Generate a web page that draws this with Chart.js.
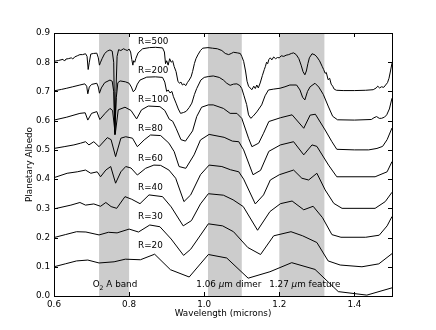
<!DOCTYPE html>
<html>
<head>
<meta charset="utf-8">
<script src="https://cdn.jsdelivr.net/npm/chart.js@4.4.0/dist/chart.umd.min.js"></script>
<style>
  html, body { margin: 0; padding: 0; background: #fff; }
  #wrap { width: 436px; height: 330px; }
</style>
</head>
<body>
<div id="wrap"><canvas id="chart" width="436" height="330"></canvas></div>
<script>
// [wavelength (microns), planetary albedo], one list per resolution
var r500 = [[0.600,0.803],[0.612,0.806],[0.624,0.810],[0.628,0.804],[0.632,0.811],[0.638,0.812],[0.646,0.815],[0.650,0.811],[0.655,0.818],[0.662,0.822],[0.669,0.826],[0.676,0.826],[0.684,0.829],[0.688,0.820],[0.691,0.775],[0.694,0.800],[0.698,0.828],[0.705,0.830],[0.714,0.831],[0.718,0.815],[0.721,0.790],[0.724,0.800],[0.728,0.812],[0.735,0.830],[0.742,0.838],[0.749,0.842],[0.755,0.838],[0.759,0.800],[0.762,0.552],[0.765,0.700],[0.768,0.820],[0.772,0.843],[0.778,0.840],[0.785,0.846],[0.790,0.843],[0.795,0.840],[0.800,0.845],[0.804,0.835],[0.807,0.810],[0.810,0.790],[0.812,0.805],[0.815,0.800],[0.818,0.813],[0.824,0.832],[0.836,0.846],[0.854,0.850],[0.870,0.851],[0.889,0.849],[0.894,0.835],[0.897,0.795],[0.900,0.805],[0.904,0.790],[0.908,0.812],[0.912,0.800],[0.916,0.805],[0.920,0.785],[0.925,0.768],[0.930,0.735],[0.934,0.728],[0.938,0.732],[0.942,0.722],[0.946,0.726],[0.951,0.720],[0.955,0.730],[0.960,0.739],[0.965,0.750],[0.969,0.768],[0.974,0.796],[0.978,0.812],[0.983,0.825],[0.990,0.840],[0.996,0.848],[1.010,0.850],[1.022,0.848],[1.035,0.846],[1.047,0.840],[1.056,0.830],[1.065,0.826],[1.072,0.830],[1.078,0.834],[1.088,0.832],[1.096,0.830],[1.100,0.820],[1.105,0.803],[1.110,0.770],[1.114,0.735],[1.118,0.718],[1.122,0.712],[1.127,0.706],[1.132,0.718],[1.136,0.710],[1.140,0.722],[1.144,0.712],[1.149,0.729],[1.155,0.755],[1.160,0.775],[1.163,0.786],[1.166,0.800],[1.169,0.795],[1.172,0.809],[1.176,0.815],[1.180,0.808],[1.185,0.818],[1.190,0.812],[1.195,0.816],[1.200,0.815],[1.205,0.822],[1.212,0.820],[1.218,0.824],[1.225,0.826],[1.232,0.830],[1.238,0.832],[1.245,0.826],[1.252,0.812],[1.258,0.790],[1.263,0.768],[1.268,0.757],[1.272,0.770],[1.276,0.795],[1.280,0.815],[1.287,0.829],[1.295,0.825],[1.300,0.818],[1.307,0.805],[1.314,0.786],[1.318,0.775],[1.322,0.762],[1.325,0.765],[1.330,0.740],[1.334,0.745],[1.338,0.725],[1.342,0.718],[1.346,0.708],[1.352,0.704],[1.370,0.703],[1.400,0.703],[1.430,0.704],[1.450,0.706],[1.458,0.712],[1.462,0.718],[1.467,0.712],[1.472,0.716],[1.478,0.714],[1.483,0.722],[1.488,0.730],[1.492,0.745],[1.496,0.770],[1.500,0.797]];
var r200 = [[0.600,0.702],[0.620,0.707],[0.634,0.711],[0.650,0.716],[0.669,0.722],[0.682,0.726],[0.687,0.718],[0.690,0.692],[0.694,0.715],[0.700,0.724],[0.714,0.728],[0.718,0.715],[0.721,0.694],[0.726,0.712],[0.735,0.730],[0.749,0.739],[0.755,0.735],[0.759,0.700],[0.762,0.560],[0.766,0.680],[0.770,0.730],[0.776,0.736],[0.790,0.733],[0.800,0.728],[0.806,0.715],[0.811,0.699],[0.816,0.705],[0.822,0.725],[0.829,0.739],[0.847,0.749],[0.870,0.750],[0.889,0.748],[0.895,0.732],[0.900,0.700],[0.904,0.705],[0.909,0.695],[0.914,0.700],[0.918,0.682],[0.925,0.660],[0.931,0.640],[0.937,0.625],[0.945,0.628],[0.952,0.632],[0.960,0.645],[0.967,0.660],[0.974,0.690],[0.980,0.710],[0.991,0.739],[1.000,0.748],[1.011,0.751],[1.024,0.753],[1.040,0.748],[1.051,0.739],[1.060,0.728],[1.069,0.721],[1.078,0.725],[1.087,0.726],[1.095,0.720],[1.100,0.710],[1.106,0.685],[1.113,0.655],[1.118,0.620],[1.124,0.608],[1.130,0.615],[1.140,0.630],[1.153,0.654],[1.162,0.685],[1.171,0.705],[1.185,0.708],[1.202,0.711],[1.215,0.716],[1.228,0.722],[1.246,0.722],[1.255,0.705],[1.262,0.680],[1.268,0.671],[1.275,0.700],[1.282,0.716],[1.295,0.728],[1.305,0.715],[1.317,0.690],[1.330,0.650],[1.342,0.615],[1.355,0.603],[1.400,0.602],[1.445,0.604],[1.452,0.610],[1.459,0.614],[1.466,0.608],[1.472,0.608],[1.480,0.612],[1.486,0.620],[1.493,0.640],[1.500,0.677]];
var r100 = [[0.600,0.602],[0.634,0.612],[0.669,0.625],[0.683,0.627],[0.690,0.602],[0.700,0.625],[0.714,0.631],[0.722,0.604],[0.736,0.625],[0.749,0.642],[0.756,0.635],[0.763,0.553],[0.771,0.637],[0.789,0.646],[0.805,0.635],[0.820,0.606],[0.833,0.637],[0.851,0.650],[0.882,0.648],[0.895,0.635],[0.907,0.605],[0.916,0.598],[0.925,0.574],[0.938,0.535],[0.950,0.530],[0.969,0.565],[0.980,0.614],[0.993,0.646],[1.011,0.654],[1.024,0.654],[1.051,0.642],[1.069,0.625],[1.087,0.625],[1.100,0.608],[1.118,0.540],[1.127,0.511],[1.145,0.523],[1.158,0.557],[1.172,0.597],[1.203,0.610],[1.234,0.620],[1.265,0.574],[1.282,0.619],[1.296,0.622],[1.322,0.568],[1.340,0.528],[1.353,0.502],[1.400,0.500],[1.438,0.500],[1.460,0.505],[1.475,0.512],[1.487,0.535],[1.500,0.575]];
var r80 = [[0.600,0.505],[0.627,0.511],[0.653,0.517],[0.671,0.523],[0.684,0.528],[0.693,0.517],[0.706,0.528],[0.720,0.511],[0.742,0.542],[0.752,0.535],[0.764,0.477],[0.778,0.540],[0.791,0.545],[0.809,0.540],[0.822,0.511],[0.840,0.534],[0.857,0.551],[0.884,0.549],[0.906,0.523],[0.920,0.494],[0.933,0.443],[0.951,0.437],[0.973,0.483],[0.990,0.534],[1.013,0.553],[1.053,0.543],[1.075,0.530],[1.092,0.528],[1.105,0.500],[1.130,0.415],[1.150,0.430],[1.172,0.495],[1.203,0.517],[1.238,0.528],[1.265,0.483],[1.287,0.517],[1.300,0.512],[1.331,0.448],[1.353,0.408],[1.455,0.408],[1.487,0.425],[1.500,0.460]];
var r60 = [[0.600,0.405],[0.635,0.420],[0.662,0.425],[0.684,0.431],[0.698,0.420],[0.715,0.425],[0.724,0.408],[0.738,0.431],[0.751,0.443],[0.764,0.386],[0.778,0.425],[0.791,0.443],[0.805,0.438],[0.822,0.414],[0.844,0.437],[0.866,0.448],[0.884,0.447],[0.906,0.431],[0.924,0.403],[0.946,0.323],[0.964,0.346],[0.990,0.415],[1.013,0.448],[1.047,0.443],[1.070,0.432],[1.092,0.425],[1.105,0.400],[1.136,0.315],[1.158,0.346],[1.176,0.397],[1.200,0.415],[1.238,0.431],[1.260,0.403],[1.278,0.397],[1.300,0.420],[1.322,0.363],[1.345,0.317],[1.367,0.300],[1.455,0.300],[1.482,0.323],[1.500,0.355]];
var r40 = [[0.600,0.298],[0.645,0.311],[0.669,0.320],[0.684,0.311],[0.706,0.315],[0.724,0.307],[0.738,0.320],[0.752,0.306],[0.767,0.300],[0.789,0.340],[0.807,0.331],[0.829,0.316],[0.853,0.346],[0.889,0.340],[0.912,0.305],[0.944,0.240],[0.966,0.258],[0.990,0.315],[1.011,0.350],[1.051,0.345],[1.077,0.329],[1.104,0.306],[1.142,0.225],[1.175,0.289],[1.203,0.316],[1.234,0.325],[1.265,0.295],[1.290,0.307],[1.315,0.268],[1.340,0.210],[1.364,0.201],[1.430,0.201],[1.466,0.208],[1.487,0.240],[1.500,0.272]];
var r30 = [[0.600,0.200],[0.630,0.210],[0.660,0.220],[0.685,0.219],[0.720,0.209],[0.745,0.218],[0.768,0.216],[0.800,0.229],[0.825,0.219],[0.855,0.243],[0.882,0.237],[0.912,0.195],[0.945,0.139],[0.964,0.160],[1.011,0.247],[1.049,0.240],[1.078,0.220],[1.116,0.166],[1.150,0.142],[1.185,0.206],[1.231,0.220],[1.262,0.206],[1.300,0.183],[1.330,0.120],[1.362,0.106],[1.420,0.100],[1.465,0.110],[1.500,0.145]];
var r20 = [[0.600,0.100],[0.630,0.110],[0.660,0.120],[0.690,0.123],[0.720,0.113],[0.760,0.117],[0.790,0.126],[0.830,0.124],[0.868,0.143],[0.910,0.090],[0.960,0.065],[1.011,0.142],[1.060,0.130],[1.117,0.061],[1.175,0.083],[1.233,0.114],[1.295,0.091],[1.357,0.015],[1.433,0.003],[1.500,0.028]];

var seriesList = [r500, r200, r100, r80, r60, r40, r30, r20];
var resLabels = ['R=500', 'R=200', 'R=100', 'R=80', 'R=60', 'R=40', 'R=30', 'R=20'];
var labelAlb = [0.871, 0.771, 0.671, 0.571, 0.471, 0.371, 0.271, 0.171];
var labelWl = 0.824;

// shaded absorption bands (microns)
var bandStart = [0.72, 1.01, 1.20];
var bandEnd = [0.80, 1.10, 1.32];

var xTicks = [0.6, 0.8, 1.0, 1.2, 1.4];
var yTicks = [0.0, 0.1, 0.2, 0.3, 0.4, 0.5, 0.6, 0.7, 0.8, 0.9];

var FONT = '"DejaVu Sans", sans-serif';
var FS = 8.8;

function drawParts(ctx, parts, x, y) {
  // parts: [text, style] where style is '', 'it' or 'sub'
  parts.forEach(function(p) {
    var size = p[1] === 'sub' ? FS * 0.7 : FS;
    ctx.font = (p[1] === 'it' ? 'italic ' : '') + size + 'px ' + FONT;
    ctx.fillText(p[0], x, p[1] === 'sub' ? y + 3 : y);
    x += ctx.measureText(p[0]).width;
  });
}

var decor = {
  id: 'decor',
  beforeDatasetsDraw: function(chart) {
    var ctx = chart.ctx, a = chart.chartArea, xs = chart.scales.x;
    ctx.save();
    ctx.fillStyle = '#cccccc';
    for (var i = 0; i < bandStart.length; i++) {
      var x0 = xs.getPixelForValue(bandStart[i]);
      var x1 = xs.getPixelForValue(bandEnd[i]);
      ctx.fillRect(x0, a.top, x1 - x0, a.bottom - a.top);
    }
    ctx.restore();
  },
  afterDatasetsDraw: function(chart) {
    var ctx = chart.ctx, a = chart.chartArea, xs = chart.scales.x, ys = chart.scales.y;
    ctx.save();
    ctx.strokeStyle = '#000';
    ctx.lineWidth = 1;
    ctx.strokeRect(Math.round(a.left) + 0.5, Math.round(a.top) + 0.5,
      Math.round(a.right - a.left), Math.round(a.bottom - a.top));
    ctx.beginPath();
    xTicks.forEach(function(v) {
      var px = Math.round(xs.getPixelForValue(v)) + 0.5;
      ctx.moveTo(px, a.bottom); ctx.lineTo(px, a.bottom - 4);
      ctx.moveTo(px, a.top); ctx.lineTo(px, a.top + 4);
    });
    yTicks.forEach(function(v) {
      var py = Math.round(ys.getPixelForValue(v)) + 0.5;
      ctx.moveTo(a.left, py); ctx.lineTo(a.left + 4, py);
      ctx.moveTo(a.right, py); ctx.lineTo(a.right - 4, py);
    });
    ctx.stroke();

    ctx.fillStyle = '#000';
    ctx.textBaseline = 'middle';
    ctx.textAlign = 'left';
    ctx.font = FS + 'px ' + FONT;
    for (var i = 0; i < resLabels.length; i++) {
      ctx.fillText(resLabels[i], xs.getPixelForValue(labelWl), ys.getPixelForValue(labelAlb[i]));
    }
    var ty = ys.getPixelForValue(0.038);
    drawParts(ctx, [['O', ''], ['2', 'sub'], [' A band', '']], xs.getPixelForValue(0.703), ty);
    drawParts(ctx, [['1.06 ', ''], ['\u03bc', 'it'], ['m dimer', '']], xs.getPixelForValue(0.979), ty);
    drawParts(ctx, [['1.27 ', ''], ['\u03bc', 'it'], ['m feature', '']], xs.getPixelForValue(1.173), ty);
    ctx.restore();
  }
};

var datasets = seriesList.map(function(s, i) {
  return {
    label: resLabels[i],
    data: s.map(function(p) { return { x: p[0], y: p[1] }; }),
    borderColor: '#000',
    borderWidth: 1,
    pointRadius: 0,
    tension: 0,
    fill: false
  };
});

new Chart(document.getElementById('chart'), {
  type: 'line',
  data: { datasets: datasets },
  options: {
    responsive: false,
    animation: false,
    devicePixelRatio: 1,
    layout: { padding: { top: 33, right: 44, left: 0, bottom: 0 } },
    plugins: { legend: { display: false }, tooltip: { enabled: false } },
    scales: {
      x: {
        type: 'linear',
        min: 0.6, max: 1.5,
        afterBuildTicks: function(s) { s.ticks = xTicks.map(function(v) { return { value: v }; }); },
        afterFit: function(s) { s.height = 34; },
        grid: { display: false, drawTicks: false },
        border: { display: false },
        ticks: {
          padding: 3, maxRotation: 0, autoSkip: false, color: '#000',
          font: { family: FONT, size: FS },
          callback: function(v) { return v.toFixed(1); }
        },
        title: {
          display: true, text: 'Wavelength (microns)', color: '#000',
          font: { family: FONT, size: FS },
          padding: { top: 10.7, bottom: 10.7 }
        }
      },
      y: {
        type: 'linear',
        min: 0, max: 0.9,
        afterBuildTicks: function(s) { s.ticks = yTicks.map(function(v) { return { value: v }; }); },
        afterFit: function(s) { s.width = 54; },
        grid: { display: false, drawTicks: false },
        border: { display: false },
        ticks: {
          padding: 4, autoSkip: false, color: '#000',
          font: { family: FONT, size: FS },
          callback: function(v) { return v.toFixed(1); }
        },
        title: {
          display: true, text: 'Planetary Albedo', color: '#000',
          font: { family: FONT, size: FS },
          padding: { top: 24.7, bottom: 24.7 }
        }
      }
    }
  },
  plugins: [decor]
});
</script>
</body>
</html>
